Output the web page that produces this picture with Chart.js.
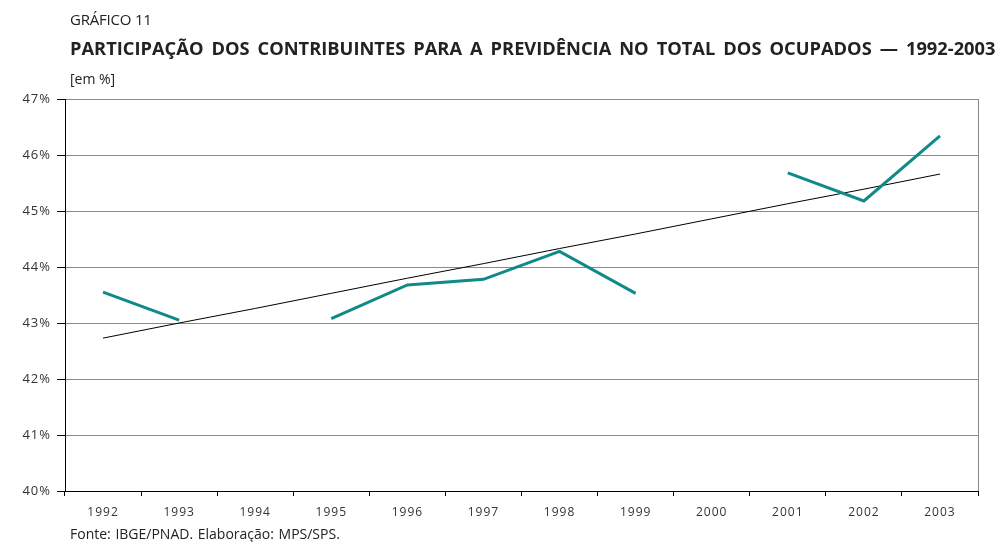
<!DOCTYPE html>
<html>
<head>
<meta charset="utf-8">
<script src="https://cdn.jsdelivr.net/npm/chart.js@4"></script>
<style>
  body { margin: 0; background: #fff; font-family: "Open Sans", sans-serif; color: #222; }
  #wrap { position: relative; width: 998px; height: 542px; }
  #chart { position: absolute; left: 0; top: 0; }
  .txt { position: absolute; white-space: nowrap; }
  #kicker { left: 70px; top: 9px; font-size: 15px; letter-spacing: -0.2px; }
  #title { left: 70px; top: 37px; font-size: 17px; font-weight: bold; transform-origin: 0 0; word-spacing: 3px; }
  #unit { left: 70px; top: 69px; font-size: 14px; }
  #source { left: 70px; top: 524px; font-size: 14px; word-spacing: 1px; }
</style>
</head>
<body>
<div id="wrap">
  <canvas id="chart" width="998" height="542"></canvas>
  <div class="txt" id="kicker">GRÁFICO 11</div>
  <div class="txt" id="title">PARTICIPAÇÃO DOS CONTRIBUINTES PARA A PREVIDÊNCIA NO TOTAL DOS OCUPADOS — 1992-2003</div>
  <div class="txt" id="unit">[em %]</div>
  <div class="txt" id="source">Fonte: IBGE/PNAD. Elaboração: MPS/SPS.</div>
</div>
<script>
const years = ["1992", "1993", "1994", "1995", "1996", "1997", "1998", "1999", "2000", "2001", "2002", "2003"];
// participação (%), sem PNAD em 1994 e 2000
const contribuintes = [43.55, 43.05, null, 43.08, 43.68, 43.78, 44.28, 43.53, null, 45.68, 45.18, 46.34];
// linha de tendência
const tendencia = [42.73, 43.0, 43.26, 43.53, 43.8, 44.06, 44.33, 44.59, 44.86, 45.13, 45.39, 45.66];
const yTicks = [40, 41, 42, 43, 44, 45, 46, 47];

// fit title to original width
const title = document.getElementById("title");
title.style.transform = "scaleX(" + (925 / title.offsetWidth) + ")";

const spacing = {
  id: "spacing",
  beforeDraw(chart) { chart.ctx.letterSpacing = "1px"; },
};

const rightBorder = {
  id: "rightBorder",
  afterDraw(chart) {
    const a = chart.chartArea;
    const ctx = chart.ctx;
    ctx.save();
    ctx.strokeStyle = "#888";
    ctx.lineWidth = 1;
    ctx.beginPath();
    ctx.moveTo(a.right + 0.5, a.top);
    ctx.lineTo(a.right + 0.5, a.bottom);
    ctx.stroke();
    ctx.restore();
  },
};

new Chart(document.getElementById("chart"), {
  type: "line",
  data: {
    labels: years,
    datasets: [
      {
        label: "Contribuintes",
        data: contribuintes,
        borderColor: "#108a88",
        borderWidth: 3,
        pointRadius: 0,
        spanGaps: false,
        tension: 0,
      },
      {
        label: "Tendência",
        data: tendencia,
        borderColor: "#000",
        borderWidth: 1,
        pointRadius: 0,
        tension: 0,
      },
    ],
  },
  options: {
    responsive: false,
    animation: false,
    layout: { padding: { left: 0, right: 20, top: 99, bottom: 21 } },
    plugins: { legend: { display: false }, tooltip: { enabled: false } },
    scales: {
      x: {
        offset: true,
        afterFit(scale) { scale.height = 30; },
        grid: { offset: true, drawOnChartArea: false, drawTicks: true, tickLength: 5, color: "#000" },
        border: { color: "#000" },
        ticks: { color: "#333", font: { family: "Open Sans", size: 12 }, padding: 9, maxRotation: 0 },
      },
      y: {
        min: 40,
        max: 47,
        afterFit(scale) { scale.width = 65; },
        afterBuildTicks(scale) { scale.ticks = yTicks.map((v) => ({ value: v })); },
        grid: {
          color: (c) => (c.index === 0 ? "#000" : "#8a8a8a"),
          tickColor: "#000",
          tickLength: 8,
        },
        border: { color: "#000" },
        ticks: {
          color: "#333",
          font: { family: "Open Sans", size: 13 },
          padding: 6,
          callback: (v) => v + "%",
        },
      },
    },
  },
  plugins: [spacing, rightBorder],
});
</script>
</body>
</html>
